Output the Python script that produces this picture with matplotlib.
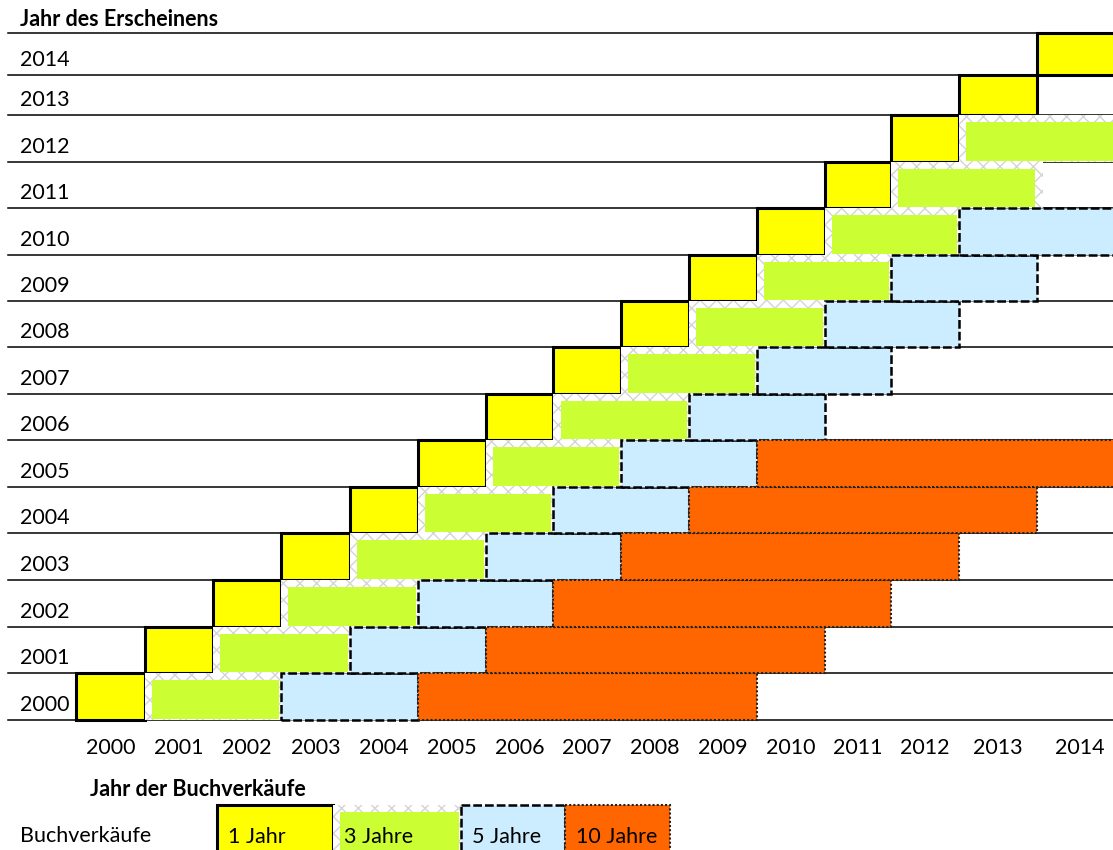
import numpy as np
import matplotlib
matplotlib.use('Agg')
import matplotlib.pyplot as plt
from matplotlib.patches import Rectangle
from matplotlib import transforms

plt.rcParams['font.family'] = ['Lato', 'DejaVu Sans']
FS = 15.5

# --- data -------------------------------------------------------------
pub_years = [2000, 2001, 2002, 2003, 2004, 2005, 2006, 2007,
             2008, 2009, 2010, 2011, 2012, 2013, 2014]
sale_years = [2000, 2001, 2002, 2003, 2004, 2005, 2006, 2007,
              2008, 2009, 2010, 2011, 2012, 2013, 2014]
windows = ['1 Jahr', '3 Jahre', '5 Jahre', '10 Jahre']

# 1 Jahr: sales in the year of publication
one_rows = [2000, 2001, 2002, 2003, 2004, 2005, 2006, 2007,
            2008, 2009, 2010, 2011, 2012, 2013, 2014]
one_from = [2000, 2001, 2002, 2003, 2004, 2005, 2006, 2007,
            2008, 2009, 2010, 2011, 2012, 2013, 2014]
one_to = [2000, 2001, 2002, 2003, 2004, 2005, 2006, 2007,
          2008, 2009, 2010, 2011, 2012, 2013, 2014]

# 3 Jahre: the two following years
three_rows = [2000, 2001, 2002, 2003, 2004, 2005, 2006,
              2007, 2008, 2009, 2010, 2011, 2012]
three_from = [2001, 2002, 2003, 2004, 2005, 2006, 2007,
              2008, 2009, 2010, 2011, 2012, 2013]
three_to = [2002, 2003, 2004, 2005, 2006, 2007, 2008,
            2009, 2010, 2011, 2012, 2013, 2014]

# 5 Jahre
five_rows = [2000, 2001, 2002, 2003, 2004, 2005, 2006, 2007, 2008, 2009, 2010]
five_from = [2003, 2004, 2005, 2006, 2007, 2008, 2009, 2010, 2011, 2012, 2013]
five_to = [2004, 2005, 2006, 2007, 2008, 2009, 2010, 2011, 2012, 2013, 2014]

# 10 Jahre
ten_rows = [2000, 2001, 2002, 2003, 2004, 2005]
ten_from = [2005, 2006, 2007, 2008, 2009, 2010]
ten_to = [2009, 2010, 2011, 2012, 2013, 2014]

# --- colours ----------------------------------------------------------
c_one = '#FFFF00'
c_three = '#CCFF33'
c_five = '#CCECFF'
c_ten = '#FF6600'
c_wave = '#d4d4d4'

# --- spreadsheet grid: cell edges in pixels (columns are not equal) ----
W, H = 1113, 850
col_px = [76.5, 145, 213, 281, 350, 418, 486, 553.5, 621, 689, 757, 825, 891, 959, 1037, 1123]
row_px = [720, 673, 627, 580, 533, 487, 440, 394, 347, 301, 255, 208, 162, 115, 75, 33]

col_edges = [s - 0.5 for s in sale_years] + [sale_years[-1] + 0.5]
row_edges = [r - 0.5 for r in pub_years] + [pub_years[-1] + 0.5]

xe = [col_edges[0] - 40] + col_edges + [col_edges[-1] + 40]
xp = [col_px[0] - 40 * 68] + col_px + [col_px[-1] + 40 * 80]
ye = [row_edges[0] - 40] + row_edges + [row_edges[-1] + 40]
yp = [-(row_px[0] + 40 * 47)] + [-p for p in row_px] + [-(row_px[-1] - 40 * 42)]


def fx(x):
    return np.interp(x, xe, xp)


def fx_inv(p):
    return np.interp(p, xp, xe)


def fy(y):
    return np.interp(y, ye, yp)


def fy_inv(p):
    return np.interp(p, yp, ye)


def shift_x(x, px):
    return float(fx_inv(fx(x) + px))


def shift_y(y, px):
    return float(fy_inv(fy(y) + px))


fig = plt.figure(figsize=(W / 100, H / 100), dpi=100)
ax = fig.add_axes([0, 0, 1, 1])
ax.set_xscale('function', functions=(fx, fx_inv))
ax.set_yscale('function', functions=(fy, fy_inv))
ax.set_xlim(float(fx_inv(0)), float(fx_inv(W)))
ax.set_ylim(float(fy_inv(-H)), float(fy_inv(0)))
ax.axis('off')

# row lines
for r in row_edges:
    ax.axhline(r, xmin=8 / W, xmax=1, color='black', lw=1.1, zorder=1)

# 1 Jahr
for r, s, e in zip(one_rows, one_from, one_to):
    ax.add_patch(Rectangle((s - 0.5, r - 0.5), e - s + 1, 1, fc=c_one, ec='black',
                           lw=2.2, joinstyle='miter', zorder=3))

# 3 Jahre (wavy light border + inset fill)
for r, s, e in zip(three_rows, three_from, three_to):
    x0, x1 = s - 0.5, e + 0.5
    xb = shift_x(x1, 6)
    ax.add_patch(Rectangle((x0, r - 0.5), xb - x0, 1, fc='white', ec=c_wave,
                           hatch='xx', lw=0, zorder=4))
    gx0, gx1 = shift_x(x0, 7), shift_x(x1, -2)
    gy0, gy1 = shift_y(r - 0.5, 1), shift_y(r + 0.5, -7)
    ax.add_patch(Rectangle((gx0, gy0), gx1 - gx0, gy1 - gy0, fc=c_three, lw=0, zorder=4.5))

# 5 Jahre
for r, s, e in zip(five_rows, five_from, five_to):
    ax.add_patch(Rectangle((s - 0.5, r - 0.5), e - s + 1, 1, fc=c_five, ec='black',
                           lw=1.8, ls=(0, (3.5, 1.2)), zorder=5))

# 10 Jahre
for r, s, e in zip(ten_rows, ten_from, ten_to):
    ax.add_patch(Rectangle((s - 0.5, r - 0.5), e - s + 1, 1, fc=c_ten, ec='#222222',
                           lw=1.5, ls=(0, (1, 1)), zorder=6))

# row labels (publication year)
row_tr = transforms.offset_copy(
    transforms.blended_transform_factory(fig.transFigure, ax.transData),
    fig=fig, y=15, units='dots')
for r in pub_years:
    ax.text(20 / W, r - 0.5, str(r), transform=row_tr, fontsize=FS, va='center', ha='left')

# column labels (sales year)
col_tr = transforms.blended_transform_factory(ax.transData, fig.transFigure)
for s in sale_years:
    ax.text(s, 1 - 748 / H, str(s), transform=col_tr, fontsize=FS, va='center', ha='center')

fig.text(20 / W, 1 - 20 / H, 'Jahr des Erscheinens', fontsize=FS, fontweight='bold', va='center')
fig.text(90 / W, 1 - 790 / H, 'Jahr der Buchverkäufe', fontsize=FS, fontweight='bold', va='center')

# --- legend row -------------------------------------------------------
lax = fig.add_axes([0, 0, 1, 1])
lax.set_xlim(0, W)
lax.set_ylim(H, 0)
lax.axis('off')
lax.patch.set_alpha(0)

lax.text(20, 836, 'Buchverkäufe', fontsize=FS, va='center', ha='left')
leg_x = [217, 333, 461, 565, 670]
top, bot = 805, 853
lax.add_patch(Rectangle((leg_x[0], top), leg_x[1] - leg_x[0], bot - top, fc=c_one,
                        ec='black', lw=2.2, zorder=3))
lax.add_patch(Rectangle((leg_x[1], top), leg_x[2] - leg_x[1], bot - top, fc='white',
                        ec=c_wave, hatch='xx', lw=0, zorder=4))
lax.add_patch(Rectangle((leg_x[1] + 7, top + 7), leg_x[2] - leg_x[1] - 9, bot - top - 7,
                        fc=c_three, lw=0, zorder=4.5))
lax.add_patch(Rectangle((leg_x[2], top), leg_x[3] - leg_x[2], bot - top, fc=c_five,
                        ec='black', lw=1.8, ls=(0, (3.5, 1.2)), zorder=5))
lax.add_patch(Rectangle((leg_x[3], top), leg_x[4] - leg_x[3], bot - top, fc=c_ten,
                        ec='#222222', lw=1.5, ls=(0, (1, 1)), zorder=6))
for i, lab in enumerate(windows):
    lax.text(leg_x[i] + 11, 837, lab, fontsize=FS, va='center', ha='left', zorder=7)

fig.savefig('out.png', dpi=100)
